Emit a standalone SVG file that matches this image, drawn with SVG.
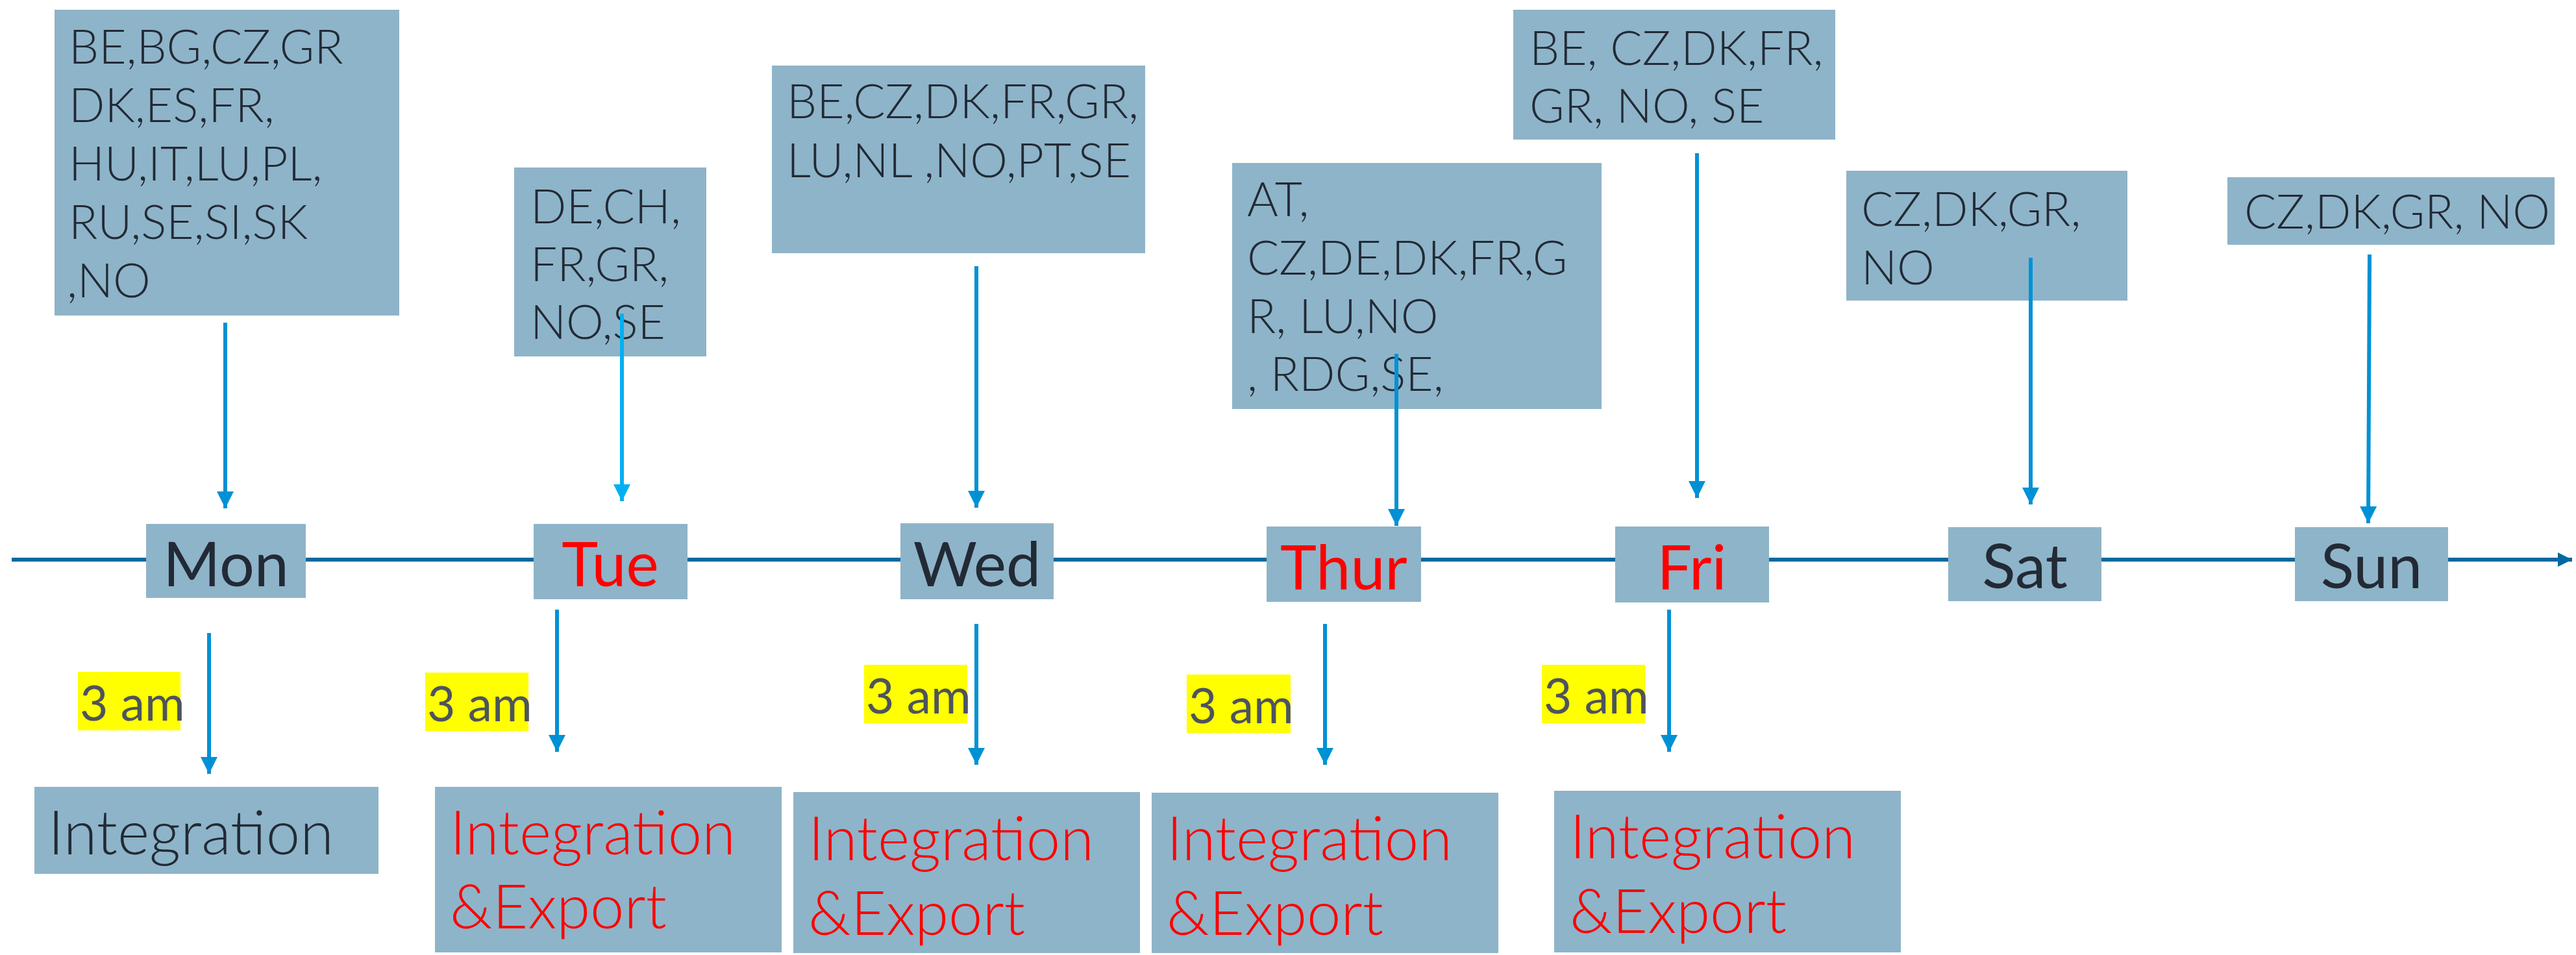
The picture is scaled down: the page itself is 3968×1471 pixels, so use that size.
<svg xmlns="http://www.w3.org/2000/svg" width="3968" height="1471" viewBox="0 0 3968 1471">
<defs>
<style>
.box{fill:#8EB4C9}
.list{font-family:Lato,"Liberation Sans",sans-serif;font-size:73px;font-weight:300;fill:#222A35}
.day{font-family:Lato,"Liberation Sans",sans-serif;font-size:95px;text-anchor:middle;fill:#222A35}
.hl{fill:#FFFF00}
.time{font-family:Lato,"Liberation Sans",sans-serif;font-size:75px;fill:#4D545C}
.proc{font-family:Lato,"Liberation Sans",sans-serif;font-size:94px;font-weight:300;fill:#222A35}
.red{fill:#FF0000}
.arr{stroke:#0091D5;stroke-width:6;fill:none;marker-end:url(#ah)}
.arrc{stroke:#00B0F0;stroke-width:6;fill:none;marker-end:url(#ahc)}
.axis{stroke:#0069A0;stroke-width:6;fill:none;marker-end:url(#aha)}
</style>
<marker id="ah" markerUnits="userSpaceOnUse" markerWidth="26" markerHeight="26" viewBox="0 0 26 26" refX="26" refY="13" orient="auto"><path d="M0,0 L26,13 L0,26 z" fill="#0091D5"/></marker>
<marker id="ahc" markerUnits="userSpaceOnUse" markerWidth="26" markerHeight="26" viewBox="0 0 26 26" refX="26" refY="13" orient="auto"><path d="M0,0 L26,13 L0,26 z" fill="#00B0F0"/></marker>
<marker id="aha" markerUnits="userSpaceOnUse" markerWidth="22" markerHeight="22" viewBox="0 0 22 22" refX="22" refY="11" orient="auto"><path d="M0,0 L22,11 L0,22 z" fill="#0069A0"/></marker>
</defs>
<rect width="3968" height="1471" fill="#FFFFFF"/>
<g id="timeline"><line class="axis" x1="18" y1="862" x2="3962" y2="862"/></g>

<g id="list-mon"><rect class="box" x="84" y="15" width="531" height="471"/>
<text class="list"><tspan x="106" y="98">BE,BG,CZ,GR</tspan><tspan x="106" y="188">DK,ES,FR,</tspan><tspan x="106" y="278">HU,IT,LU,PL,</tspan><tspan x="106" y="368">RU,SE,SI,SK</tspan><tspan x="103" y="458">,NO</tspan></text></g>
<g id="list-tue"><rect class="box" x="792" y="258" width="296" height="291"/>
<text class="list"><tspan x="817" y="344">DE,CH,</tspan><tspan x="817" y="433">FR,GR,</tspan><tspan x="817" y="522">NO,SE</tspan></text></g>
<g id="list-wed"><rect class="box" x="1189" y="101" width="575" height="289"/>
<text class="list"><tspan x="1212" y="182">BE,CZ,DK,FR,GR,</tspan><tspan x="1212" y="273">LU,NL ,NO,PT,SE</tspan></text></g>
<g id="list-thur"><rect class="box" x="1898" y="251" width="569" height="379"/>
<text class="list"><tspan x="1921" y="333">AT,</tspan><tspan x="1921" y="423">CZ,DE,DK,FR,G</tspan><tspan x="1921" y="513">R, LU,NO</tspan><tspan x="1921" y="602">, RDG,SE,</tspan></text></g>
<g id="list-fri"><rect class="box" x="2331" y="15" width="496" height="200"/>
<text class="list"><tspan x="2356" y="100">BE, CZ,DK,FR,</tspan><tspan x="2356" y="189">GR, NO, SE</tspan></text></g>
<g id="list-sat"><rect class="box" x="2844" y="263" width="433" height="200"/>
<text class="list"><tspan x="2867" y="348">CZ,DK,GR,</tspan><tspan x="2867" y="438">NO</tspan></text></g>
<g id="list-sun"><rect class="box" x="3431" y="273" width="504" height="104"/>
<text class="list" x="3457" y="352">CZ,DK,GR, NO</text></g>

<g id="day-mon"><rect class="box" x="225" y="807" width="246" height="114"/><text class="day" x="348" y="903">Mon</text></g>
<g id="day-tue"><rect class="box" x="822" y="807" width="237" height="116"/><text class="day red" x="940" y="903">Tue</text></g>
<g id="day-wed"><rect class="box" x="1387" y="806" width="236" height="117"/><text class="day" x="1505" y="903">Wed</text></g>
<g id="day-thur"><rect class="box" x="1951" y="811" width="238" height="116"/><text class="day red" x="2070" y="908">Thur</text></g>
<g id="day-fri"><rect class="box" x="2488" y="811" width="237" height="117"/><text class="day red" x="2606" y="908">Fri</text></g>
<g id="day-sat"><rect class="box" x="3001" y="812" width="236" height="114"/><text class="day" x="3119" y="906">Sat</text></g>
<g id="day-sun"><rect class="box" x="3535" y="812" width="236" height="114"/><text class="day" x="3653" y="906">Sun</text></g>

<g id="time-mon"><rect class="hl" x="120" y="1035" width="158" height="90"/><text class="time" x="123" y="1110">3 am</text></g>
<g id="time-tue"><rect class="hl" x="655" y="1036" width="159" height="90"/><text class="time" x="658" y="1111">3 am</text></g>
<g id="time-wed"><rect class="hl" x="1331" y="1024" width="159" height="90"/><text class="time" x="1334" y="1099">3 am</text></g>
<g id="time-thur"><rect class="hl" x="1828" y="1039" width="160" height="90"/><text class="time" x="1831" y="1114">3 am</text></g>
<g id="time-fri"><rect class="hl" x="2375" y="1024" width="159" height="90"/><text class="time" x="2378" y="1099">3 am</text></g>

<g id="proc-mon"><rect class="box" x="53" y="1212" width="530" height="134"/><text class="proc" x="74" y="1316">Integration</text></g>
<g id="proc-tue"><rect class="box" x="670" y="1212" width="534" height="255"/><text class="proc red"><tspan x="693" y="1316">Integration</tspan><tspan x="693" y="1430">&amp;Export</tspan></text></g>
<g id="proc-wed"><rect class="box" x="1222" y="1220" width="534" height="248"/><text class="proc red"><tspan x="1245" y="1325">Integration</tspan><tspan x="1245" y="1440">&amp;Export</tspan></text></g>
<g id="proc-thur"><rect class="box" x="1774" y="1221" width="534" height="247"/><text class="proc red"><tspan x="1797" y="1325">Integration</tspan><tspan x="1797" y="1440">&amp;Export</tspan></text></g>
<g id="proc-fri"><rect class="box" x="2394" y="1218" width="534" height="249"/><text class="proc red"><tspan x="2418" y="1322">Integration</tspan><tspan x="2418" y="1437">&amp;Export</tspan></text></g>

<g id="connectors">
<line class="arr" x1="347" y1="497" x2="347" y2="783"/>
<line class="arrc" x1="958" y1="483" x2="958" y2="772"/>
<line class="arr" x1="1504" y1="410" x2="1504" y2="782"/>
<line class="arr" x1="2151" y1="545" x2="2151" y2="810"/>
<line class="arr" x1="2614" y1="236" x2="2614" y2="767"/>
<line class="arr" x1="3128" y1="397" x2="3128" y2="777"/>
<line class="arr" x1="3650" y1="392" x2="3648" y2="806"/>
<line class="arr" x1="322" y1="975" x2="322" y2="1192"/>
<line class="arr" x1="858" y1="939" x2="858" y2="1158"/>
<line class="arr" x1="1504" y1="961" x2="1504" y2="1178"/>
<line class="arr" x1="2041" y1="961" x2="2041" y2="1178"/>
<line class="arr" x1="2571" y1="939" x2="2571" y2="1158"/>
</g>
</svg>
